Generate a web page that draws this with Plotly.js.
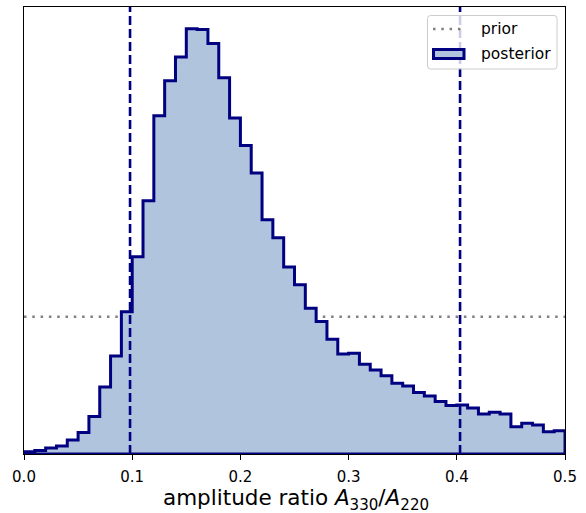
<!DOCTYPE html>
<html>
<head>
<meta charset="utf-8">
<script src="https://cdn.plot.ly/plotly-3.0.1.min.js"></script>
<style>
html,body{margin:0;padding:0;background:#fff;}
#chart{width:586px;height:513px;}
</style>
</head>
<body>
<div id="chart"></div>
<script>
// Posterior density of amplitude ratio, bins of width 0.01 from 0 to 0.5
const binStart = 0.0;
const binWidth = 0.01;
const posteriorDensity = [
  0.034, 0.051, 0.087, 0.117, 0.204, 0.313, 0.547, 0.977, 1.429, 2.070,
  2.872, 3.688, 4.927, 5.437, 5.780, 6.195, 6.181, 5.977, 5.481, 4.894,
  4.494, 4.092, 3.411, 3.149, 2.722, 2.464, 2.124, 1.929, 1.672, 1.458,
  1.468, 1.308, 1.224, 1.141, 1.031, 0.991, 0.894, 0.845, 0.765, 0.707,
  0.714, 0.671, 0.583, 0.608, 0.583, 0.398, 0.448, 0.423, 0.325, 0.340
];
const priorRange = [0.0, 0.5];
const priorDensity = 2.0;
const credibleBounds = [0.098, 0.403];
const xTicks = [0.0, 0.1, 0.2, 0.3, 0.4, 0.5];
const xTickLabels = ['0.0', '0.1', '0.2', '0.3', '0.4', '0.5'];
const legendLabels = ['prior', 'posterior'];
const xTitle = 'amplitude ratio <i>A</i><sub>330</sub>/<i>A</i><sub>220</sub>';

// colours / styles
const NAVY = '#000080', FILL = '#b0c4de', GREY = '#808080';

// figure geometry (pixels)
const W = 586, H = 513, ML = 24, MR = 21, MT = 7, MB = 59;
const PW = W - ML - MR, PH = H - MT - MB;
const px = x => (x - ML) / PW;           // pixel x -> paper x
const py = y => (H - MB - y) / PH;       // pixel y -> paper y

// Build step outline polygon (stepfilled histogram)
const sx = [binStart], sy = [0];
posteriorDensity.forEach((v, i) => { sx.push(binStart + i * binWidth); sy.push(v); });
const endX = binStart + posteriorDensity.length * binWidth;
sx.push(endX); sy.push(posteriorDensity[posteriorDensity.length - 1]);
sx.push(endX); sy.push(0);
sx.push(binStart); sy.push(0);

const traces = [
  {
    type: 'scatter', mode: 'lines', name: legendLabels[0],
    x: priorRange, y: [priorDensity, priorDensity],
    line: {color: GREY, width: 2.5, dash: '2.5px,5.8px'},
    hoverinfo: 'skip', showlegend: false
  },
  {
    type: 'scatter', mode: 'lines', name: legendLabels[1],
    x: sx, y: sy,
    line: {color: NAVY, width: 3, shape: 'hv'},
    fill: 'toself', fillcolor: FILL,
    hoverinfo: 'skip', showlegend: false
  }
];

const shapes = credibleBounds.map(b => ({
  type: 'line', xref: 'x', yref: 'paper', x0: b, x1: b, y0: 0, y1: 1,
  line: {color: NAVY, width: 2.6, dash: '9px,4px'}, layer: 'above'
}));

// Legend drawn as shapes + text (matplotlib-like patch legend)
function roundRect(x0, y0, x1, y1, r) {
  const rx = r / PW, ry = r / PH;
  const X0 = px(x0), X1 = px(x1), Y0 = py(y0), Y1 = py(y1); // Y0 top, Y1 bottom
  return `M ${X0 + rx},${Y0} L ${X1 - rx},${Y0} Q ${X1},${Y0} ${X1},${Y0 - ry} ` +
         `L ${X1},${Y1 + ry} Q ${X1},${Y1} ${X1 - rx},${Y1} L ${X0 + rx},${Y1} ` +
         `Q ${X0},${Y1} ${X0},${Y1 + ry} L ${X0},${Y0 - ry} Q ${X0},${Y0} ${X0 + rx},${Y0} Z`;
}
shapes.push({
  type: 'path', xref: 'paper', yref: 'paper', layer: 'above',
  path: roundRect(427.5, 15.5, 557, 69, 3),
  fillcolor: 'rgba(255,255,255,0.8)', line: {color: '#cccccc', width: 1}
});
shapes.push({
  type: 'line', xref: 'paper', yref: 'paper', layer: 'above',
  x0: px(433), x1: px(462), y0: py(29), y1: py(29),
  line: {color: GREY, width: 2.5, dash: '2.5px,5.8px'}
});
shapes.push({
  type: 'rect', xref: 'paper', yref: 'paper', layer: 'above',
  x0: px(433.5), x1: px(464), y0: py(49.5), y1: py(58.5),
  fillcolor: FILL, line: {color: NAVY, width: 3}
});

const annotations = [
  {text: legendLabels[0], xref: 'paper', yref: 'paper', x: px(479), y: py(29),
   xanchor: 'left', yanchor: 'middle', showarrow: false,
   font: {family: 'DejaVu Sans', size: 15.5, color: '#000'}},
  {text: legendLabels[1], xref: 'paper', yref: 'paper', x: px(479), y: py(54),
   xanchor: 'left', yanchor: 'middle', showarrow: false,
   font: {family: 'DejaVu Sans', size: 15.5, color: '#000'}},
  {text: xTitle, xref: 'paper', yref: 'paper', x: px(295.5), y: py(499.5),
   xanchor: 'center', yanchor: 'middle', showarrow: false,
   font: {family: 'DejaVu Sans', size: 21.5, color: '#000'}}
];

const layout = {
  width: W, height: H,
  margin: {l: ML, r: MR, t: MT, b: MB, pad: 0},
  paper_bgcolor: '#ffffff', plot_bgcolor: '#ffffff',
  font: {family: 'DejaVu Sans', color: '#000000'},
  showlegend: false,
  xaxis: {
    range: [0, 0.5], tickmode: 'array', tickvals: xTicks, ticktext: xTickLabels,
    ticks: 'outside', ticklen: 5, tickwidth: 1, tickcolor: '#000',
    ticklabelstandoff: 4,
    showline: true, linecolor: '#000', linewidth: 1, mirror: true,
    showgrid: false, zeroline: false,
    tickfont: {family: 'DejaVu Sans', size: 15, color: '#000'}
  },
  yaxis: {
    range: [0, 6.51], showticklabels: false, ticks: '',
    showline: true, linecolor: '#000', linewidth: 1, mirror: true,
    showgrid: false, zeroline: false
  },
  shapes: shapes,
  annotations: annotations
};

Plotly.newPlot('chart', traces, layout, {staticPlot: true, displayModeBar: false});
</script>
</body>
</html>
